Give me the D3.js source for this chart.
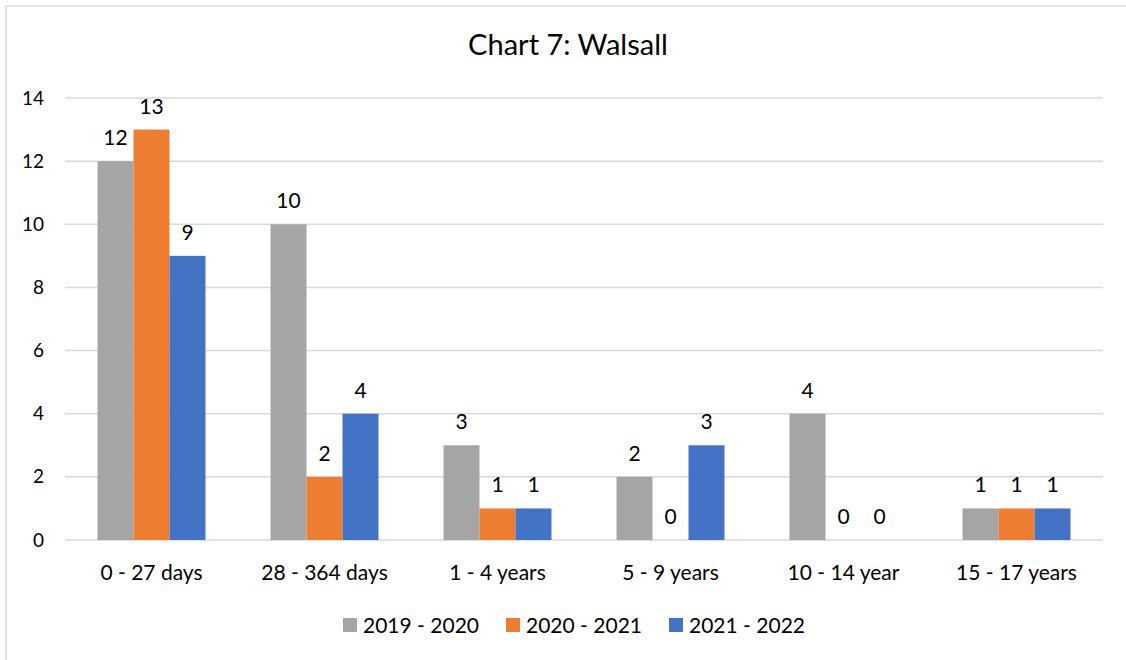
<!DOCTYPE html>
<html>
<head>
<meta charset="utf-8">
<script src="https://cdn.jsdelivr.net/npm/d3@7"></script>
<style>
  body { margin: 0; background: #fff; }
  svg text { font-family: Lato, "Open Sans", sans-serif; fill: #000; }
</style>
</head>
<body>
<div id="chart"></div>
<script>
var categories = ['0 - 27 days', '28 - 364 days', '1 - 4 years', '5 - 9 years', '10 - 14 year', '15 - 17 years'];
var seriesNames = ['2019 - 2020', '2020 - 2021', '2021 - 2022'];
var values2019 = [12, 10, 3, 2, 4, 1];
var values2020 = [13, 2, 1, 0, 0, 1];
var values2021 = [9, 4, 1, 3, 0, 1];
var yTicks = [0, 2, 4, 6, 8, 10, 12, 14];
var colors = ['#a5a5a5', '#ed7d31', '#4472c4'];

var W = 1126, H = 660;
var margin = { left: 65, right: 23, top: 98, bottom: 120 };

var series = [values2019, values2020, values2021];

var svg = d3.select('#chart').append('svg')
  .attr('width', W)
  .attr('height', H);

// chart border
svg.append('rect')
  .attr('x', 6).attr('y', 6)
  .attr('width', W + 10).attr('height', H + 10)
  .attr('fill', 'none')
  .attr('stroke', '#d9d9d9')
  .attr('stroke-width', 1.5);

var x = d3.scaleBand()
  .domain(categories)
  .range([margin.left, W - margin.right])
  .paddingInner(0)
  .paddingOuter(0);

var y = d3.scaleLinear()
  .domain([0, 14])
  .range([H - margin.bottom, margin.top]);

var groupW = x.bandwidth() * 0.624;
var x1 = d3.scaleBand()
  .domain(d3.range(seriesNames.length))
  .range([(x.bandwidth() - groupW) / 2, (x.bandwidth() + groupW) / 2]);

// gridlines
svg.append('g')
  .selectAll('line')
  .data(yTicks)
  .join('line')
  .attr('x1', margin.left)
  .attr('x2', W - margin.right)
  .attr('y1', function (d) { return y(d); })
  .attr('y2', function (d) { return y(d); })
  .attr('stroke', '#d9d9d9')
  .attr('stroke-width', 1.5);

// y axis labels
var yAxis = d3.axisLeft(y).tickValues(yTicks).tickSize(0).tickPadding(0);
var gy = svg.append('g')
  .attr('transform', 'translate(' + 44 + ',0)')
  .call(yAxis);
gy.select('.domain').remove();
gy.selectAll('text')
  .style('font-family', 'Lato, "Open Sans", sans-serif')
  .style('font-size', '19px')
  .attr('fill', '#000');

// bars
series.forEach(function (vals, si) {
  var g = svg.append('g');
  g.selectAll('rect')
    .data(vals)
    .join('rect')
    .attr('x', function (d, i) { return x(categories[i]) + x1(si); })
    .attr('y', function (d) { return y(d); })
    .attr('width', x1.bandwidth())
    .attr('height', function (d) { return y(0) - y(d); })
    .attr('fill', colors[si]);

  g.selectAll('text')
    .data(vals)
    .join('text')
    .attr('x', function (d, i) { return x(categories[i]) + x1(si) + x1.bandwidth() / 2; })
    .attr('y', function (d) { return y(d) - 16; })
    .attr('text-anchor', 'middle')
    .style('font-size', '21px')
    .text(function (d) { return d; });
});

// x axis labels
var xAxis = d3.axisBottom(x).tickSize(0).tickPadding(0);
var gx = svg.append('g')
  .attr('transform', 'translate(0,' + y(0) + ')')
  .call(xAxis);
gx.select('.domain').remove();
gx.selectAll('text')
  .attr('y', 40)
  .attr('dy', 0)
  .style('font-family', 'Lato, "Open Sans", sans-serif')
  .style('font-size', '21px')
  .attr('fill', '#000');

// title
svg.append('text')
  .attr('x', 568)
  .attr('y', 55)
  .attr('text-anchor', 'middle')
  .style('font-size', '29px')
  .text('Chart 7: Walsall');

// legend
var legendX = [343, 506, 669];
var legend = svg.append('g')
  .selectAll('g')
  .data(seriesNames)
  .join('g')
  .attr('transform', function (d, i) { return 'translate(' + legendX[i] + ',618)'; });
legend.append('rect')
  .attr('width', 14)
  .attr('height', 14)
  .attr('fill', function (d, i) { return colors[i]; });
legend.append('text')
  .attr('x', 20)
  .attr('y', 15)
  .style('font-size', '21px')
  .text(function (d) { return d; });
</script>
</body>
</html>
